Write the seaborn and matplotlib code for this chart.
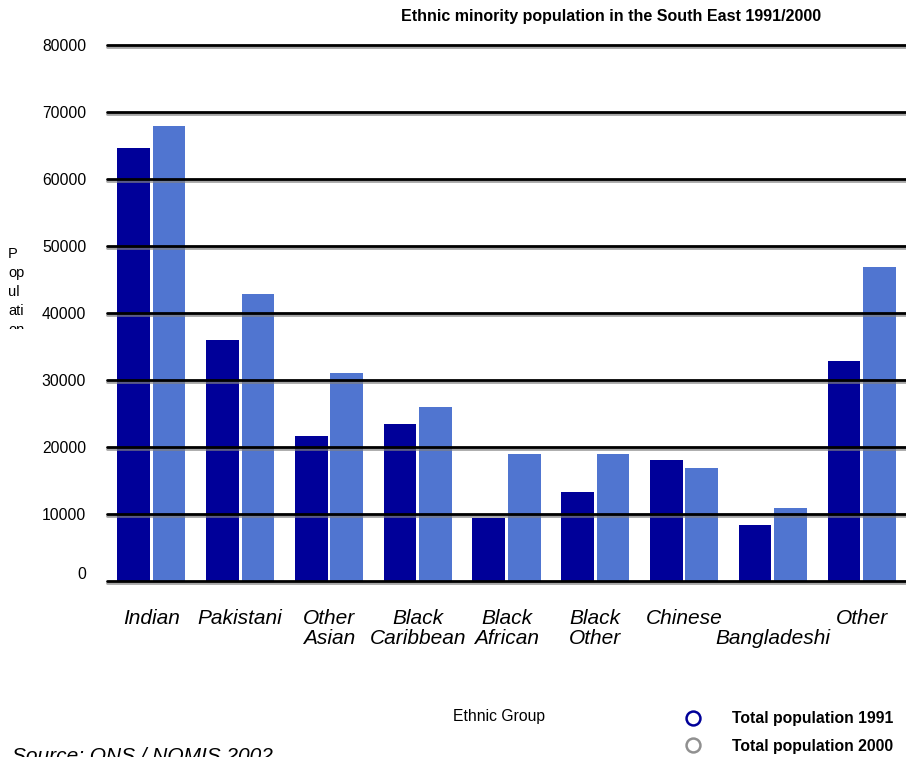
import matplotlib
matplotlib.use("Agg")
import matplotlib.pyplot as plt
import matplotlib.patheffects as pe
from matplotlib.lines import Line2D
from matplotlib.transforms import Bbox, TransformedBbox, ScaledTranslation
import seaborn as sns
import pandas as pd

# Ethnic groups and their populations in the South East
groups = ["Indian", "Pakistani", "Other Asian", "Black Caribbean", "Black African",
          "Black Other", "Chinese", "Bangladeshi", "Other"]
tick_labels = ["Indian", "Pakistani", "Other\nAsian", "Black\nCaribbean", "Black\nAfrican",
               "Black\nOther", "Chinese", "\nBangladeshi", "Other"]
pop_1991 = [64700, 35900, 21600, 23500, 9400, 13300, 18100, 8400, 32900]
pop_2000 = [67900, 42900, 31000, 25900, 18900, 18900, 16900, 10900, 46900]
series = ["Total population 1991", "Total population 2000"]
yticks = [0, 10000, 20000, 30000, 40000, 50000, 60000, 70000, 80000]

df = pd.DataFrame({
    "group": groups * 2,
    "population": pop_1991 + pop_2000,
    "series": [series[0]] * len(groups) + [series[1]] * len(groups),
})

sns.set_theme(style="white")
plt.rcParams["font.family"] = ["Liberation Sans", "DejaVu Sans"]
plt.rcParams["text.color"] = "black"
plt.rcParams["xtick.color"] = "black"
plt.rcParams["ytick.color"] = "black"
plt.rcParams["xtick.labelcolor"] = "black"
plt.rcParams["ytick.labelcolor"] = "black"

fig = plt.figure(figsize=(9.06, 7.57), dpi=100)
ax = fig.add_axes([107 / 906, 1 - 581 / 757, 1 - 107 / 906, (581 - 45) / 757])

bar_colors = ["#000099", "#5075d0"]
sns.barplot(data=df, x="group", y="population", hue="series", order=groups,
            hue_order=series, palette=bar_colors, width=0.8, gap=0.08,
            saturation=1, legend=False, ax=ax, linewidth=0)

ax.set_xlim(-0.5, len(groups) - 0.5)
ax.set_ylim(0, 80000)
ax.set_yticks(yticks)
ax.set_yticklabels([str(v) for v in yticks], fontsize=11.3)
ax.set_xticks(range(len(groups)))
ax.set_xticklabels(tick_labels, fontsize=15, style="italic", va="top", linespacing=1.05)
ax.tick_params(axis="y", length=0, pad=15)
ax.tick_params(axis="x", length=0, pad=20)
ax.set_xlabel("")
ax.set_ylabel("")
for s in ax.spines.values():
    s.set_visible(False)

# "0" sits a little above the baseline
zero_lbl = ax.get_yticklabels()[0]
zero_lbl.set_transform(zero_lbl.get_transform() + ScaledTranslation(0, 8 / 100, fig.dpi_scale_trans))

# Horizontal rules drawn over the bars with a soft shadow
ax.set_axisbelow(False)
ax.yaxis.grid(True, color="black", linewidth=2)
ax.xaxis.grid(False)
for gl in ax.get_ygridlines():
    gl.set_clip_on(False)
    gl.set_path_effects([pe.SimpleLineShadow(offset=(0, -1.2), shadow_color="grey", alpha=0.7),
                         pe.Normal()])

fig.text(611 / 906, 1 - 16 / 757, "Ethnic minority population in the South East 1991/2000",
         ha="center", va="center", fontsize=11.5, fontweight="bold")

# Wrapped axis title in a narrow box, cut off at the bottom of its box
ylab = fig.text(8 / 906, 1 - 247 / 757, "P\nop\nul\nati\non", ha="left", va="top",
                fontsize=10.5, linespacing=1.46)
ylab.set_clip_box(TransformedBbox(Bbox([[0, 1 - 329 / 757], [0.1, 1 - 240 / 757]]), fig.transFigure))
ylab.set_clip_on(True)

fig.text(499 / 906, 1 - 716 / 757, "Ethnic Group", ha="center", va="center", fontsize=11.3)

fig.text(12 / 906, -5 / 757, "Source: ONS / NOMIS 2002", ha="left", va="baseline",
         fontsize=15, style="italic")

handles = [
    Line2D([], [], linestyle="none", marker="o", markersize=10, markerfacecolor="white",
           markeredgecolor="#000099", markeredgewidth=1.8),
    Line2D([], [], linestyle="none", marker="o", markersize=10, markerfacecolor="white",
           markeredgecolor="#909090", markeredgewidth=1.8),
]
leg = fig.legend(handles, series, loc="upper left", bbox_to_anchor=(671 / 906, 1 - 705 / 757),
                 frameon=False, prop={"weight": "bold", "size": 11.3},
                 handletextpad=1.5, labelspacing=0.8, borderaxespad=0)

fig.savefig("out.png", dpi=100)
